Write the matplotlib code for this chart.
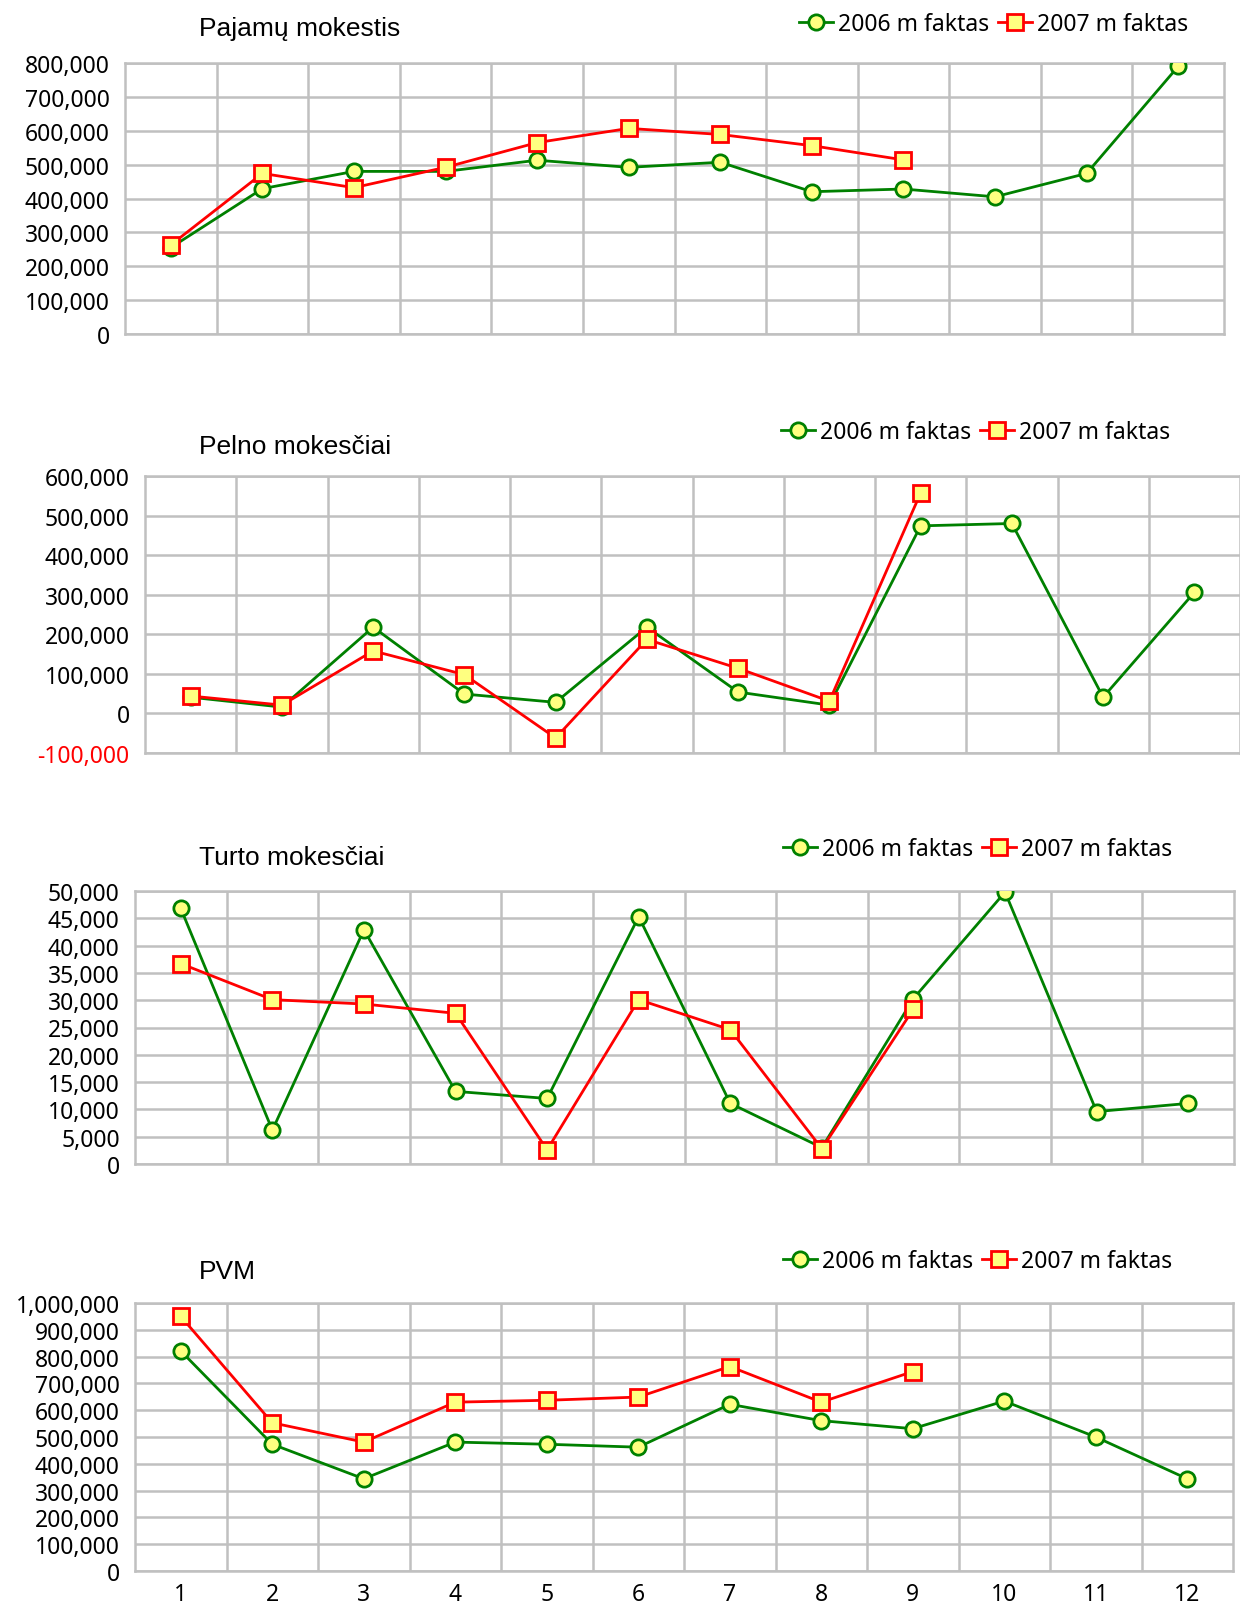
import matplotlib.pyplot as plt
from matplotlib.ticker import FuncFormatter, FixedLocator
import numpy as np

# months
months = list(range(1, 13))
month_labels = [str(m) for m in months]

# Pajamu mokestis
pajamu_2006 = [255000, 429000, 480000, 480000, 513000, 492000, 507000, 420000, 428000, 405000, 474000, 790000]
pajamu_2007 = [263000, 474000, 432000, 492000, 565000, 607000, 589000, 556000, 514000]

# Pelno mokesciai
pelno_2006 = [41000, 16000, 218000, 49000, 28000, 218000, 54000, 21000, 474000, 480000, 41000, 306000]
pelno_2007 = [44000, 21000, 158000, 98000, -62000, 187000, 114000, 31000, 557000]

# Turto mokesciai
turto_2006 = [46800, 6200, 42900, 13300, 12000, 45300, 11100, 3000, 30300, 49800, 9600, 11100]
turto_2007 = [36700, 30100, 29300, 27600, 2600, 30100, 24600, 2800, 28400]

# PVM
pvm_2006 = [821000, 473000, 344000, 481000, 473000, 462000, 622000, 561000, 531000, 634000, 500000, 344000]
pvm_2007 = [950000, 553000, 481000, 630000, 637000, 649000, 763000, 630000, 744000]

titles = ["Pajamų mokestis", "Pelno mokesčiai", "Turto mokesčiai", "PVM"]
series_names = ["2006 m faktas", "2007 m faktas"]

plt.rcParams['font.family'] = ['Noto Sans', 'DejaVu Sans']
FS = 16.5
GRID = '#c0c0c0'
GREEN = '#008000'
RED = '#ff0000'
FILL = '#ffff80'

W, H = 1240, 1608
fig = plt.figure(figsize=(W / 100, H / 100), dpi=100)


def px_rect(left, right, top, bottom):
    return [left / W, 1 - bottom / H, (right - left) / W, (bottom - top) / H]


def panel(rect, title, title_xy, legend_xy, s2006, s2007, ymin, ymax, ystep, show_x):
    ax = fig.add_axes(rect)
    ax.plot(months, s2006, color=GREEN, lw=2.0, marker='o', ms=11,
            mfc=FILL, mec=GREEN, mew=2.0, label=series_names[0], zorder=3)
    ax.plot(months[:len(s2007)], s2007, color=RED, lw=2.0, marker='s', ms=11,
            mfc=FILL, mec=RED, mew=2.0, label=series_names[1], zorder=4)
    ax.set_xlim(0.5, 12.5)
    ax.set_ylim(ymin, ymax)
    ax.set_yticks(np.arange(ymin, ymax + ystep / 2, ystep))
    ax.yaxis.set_major_formatter(FuncFormatter(lambda v, p: f"{int(round(v)):,}"))
    ax.xaxis.set_major_locator(FixedLocator(months))
    ax.xaxis.set_minor_locator(FixedLocator([m + 0.5 for m in months[:-1]]))
    if show_x:
        ax.set_xticklabels(month_labels)
    else:
        ax.set_xticklabels([])
    ax.tick_params(axis='both', which='both', length=0, labelsize=FS, colors='black')
    ax.tick_params(axis='y', pad=11)
    ax.tick_params(axis='x', pad=8)
    ax.grid(True, axis='y', which='major', color=GRID, lw=1.8)
    ax.grid(True, axis='x', which='minor', color=GRID, lw=1.8)
    ax.set_axisbelow(True)
    for sp in ax.spines.values():
        sp.set_color(GRID)
        sp.set_linewidth(1.8)
    # chart titles use an Arial-like face
    fig.text(title_xy[0] / W, 1 - title_xy[1] / H, title, fontsize=19,
             family=['Liberation Sans', 'DejaVu Sans'], ha='left', va='center')
    ax.legend(loc='center right', bbox_to_anchor=(legend_xy[0] / W, 1 - legend_xy[1] / H),
              bbox_transform=fig.transFigure, ncol=2, frameon=False, fontsize=FS,
              handlelength=1.5, handletextpad=0.2, columnspacing=0.4,
              borderpad=0, borderaxespad=0, markerscale=1.0)
    return ax


panel(px_rect(125, 1224, 64, 335), titles[0], (199, 29), (1188, 25),
      pajamu_2006, pajamu_2007, 0, 800000, 100000, False)
ax2 = panel(px_rect(145, 1240, 477, 754), titles[1], (199, 447), (1170, 433),
            pelno_2006, pelno_2007, -100000, 600000, 100000, False)
panel(px_rect(135, 1234, 892, 1165), titles[2], (199, 858), (1172, 850),
      turto_2006, turto_2007, 0, 50000, 5000, False)
panel(px_rect(135, 1233, 1304, 1572), titles[3], (199, 1272), (1172, 1262),
      pvm_2006, pvm_2007, 0, 1000000, 100000, True)

# negative tick label in red (Excel number format)
ax2.get_yticklabels()[0].set_color(RED)

fig.savefig('out.png', dpi=100)
